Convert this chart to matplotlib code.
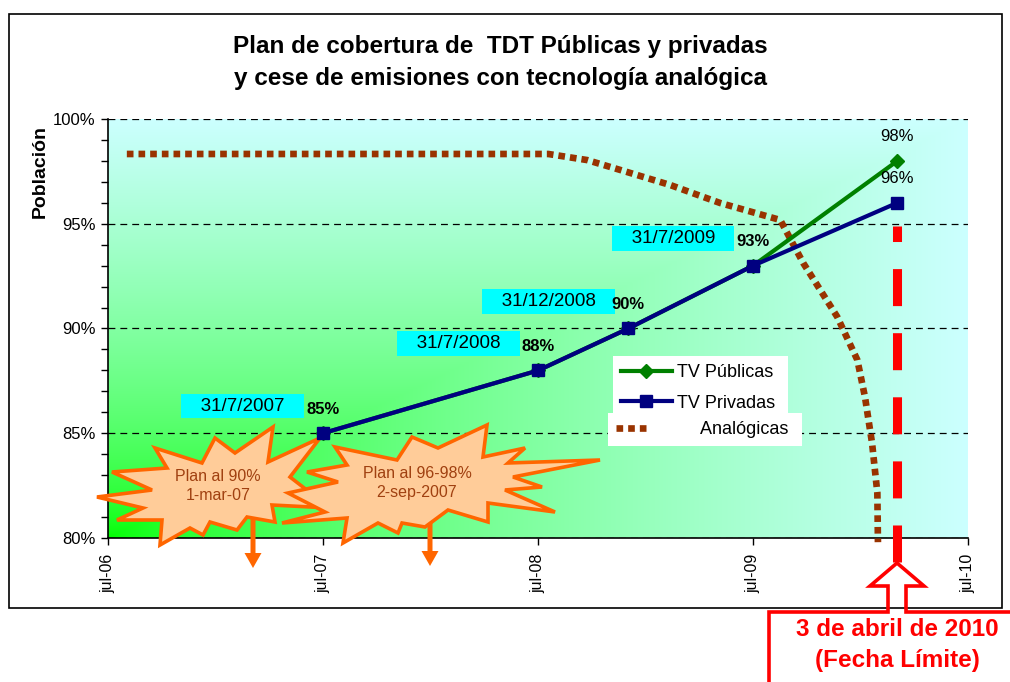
import numpy as np
import pandas as pd
import matplotlib
matplotlib.use("Agg")
import matplotlib.pyplot as plt
import matplotlib.dates as mdates
from matplotlib.transforms import Affine2D
from matplotlib.patches import Polygon, Rectangle, FancyArrow
from matplotlib.lines import Line2D
from matplotlib.ticker import MultipleLocator, FixedLocator, FixedFormatter

plt.rcParams['font.family'] = ['Liberation Sans', 'DejaVu Sans']

# ---------------- datos ----------------
fechas = pd.to_datetime(["2007-07-01", "2008-07-01", "2008-12-01", "2009-07-01", "2010-03-03"])
publicas = [85, 88, 90, 93, 98]
privadas = [85, 88, 90, 93, 96]
etiquetas_fecha = ["31/7/2007", "31/7/2008", "31/12/2008", "31/7/2009"]

fechas_analog = pd.to_datetime(["2006-08-02", "2008-07-18", "2008-09-22", "2008-11-17",
                                "2009-02-10", "2009-05-06", "2009-08-16", "2009-09-24",
                                "2009-11-21", "2009-12-25", "2010-01-07", "2010-01-19",
                                "2010-01-28", "2010-01-29"])
analogicas = [98.33, 98.33, 98.04, 97.57, 96.85, 95.99, 95.18, 93.13,
              90.55, 88.5, 86.73, 84.53, 82.15, 79.8]

fecha_limite = pd.Timestamp("2010-03-03")
limite_desde, limite_hasta = 78.85, 94.9

x_ticks = pd.to_datetime(["2006-07-01", "2007-07-01", "2008-07-01", "2009-07-01", "2010-07-01"])
x_tick_labels = ["jul-06", "jul-07", "jul-08", "jul-09", "jul-10"]
y_ticks = [80, 85, 90, 95, 100]
y_tick_labels = ["80%", "85%", "90%", "95%", "100%"]

W, H = 1010, 682
fig = plt.figure(figsize=(W / 100, H / 100), dpi=100)
# coordenadas en pixeles (origen arriba a la izquierda)
px = Affine2D().scale(1 / W, -1 / H).translate(0, 1) + fig.transFigure

ax = fig.add_axes([108 / W, 1 - 538 / H, 860 / W, 419 / H])

# fondo degradado desde la esquina inferior izquierda
nx, ny = 400, 300
X, Y = np.meshgrid(np.linspace(0, 1, nx), np.linspace(0, 1, ny))
t = np.maximum(X, Y) ** 0.65
verde = np.array([0, 255, 0]) / 255
cian = np.array([204, 255, 255]) / 255
img = verde[None, None, :] + t[:, :, None] * (cian - verde)[None, None, :]
ax.imshow(img, extent=[0, 1, 0, 1], transform=ax.transAxes, origin="lower",
          aspect="auto", zorder=0, interpolation="bilinear")

# series
ax.plot(fechas_analog, analogicas, color="#993300", lw=4.8,
        linestyle=(0, (1, 0.75)), dash_capstyle="butt", zorder=2.6, clip_on=False)
ax.plot(fechas, publicas, color="#008000", lw=3, marker="D", ms=7, zorder=3)
ax.plot(fechas, privadas, color="#000080", lw=3, marker="s", ms=9, zorder=4)

# linea fecha limite
ax.plot([fecha_limite, fecha_limite], [limite_desde, limite_hasta], color="#FF0000",
        lw=6.5, linestyle=(0, (4.1, 3.0)), dash_capstyle="butt", zorder=3.5, clip_on=False)

# etiquetas de valores
for i, (d, v) in enumerate(zip(fechas, privadas)):
    ax.annotate(f"{v}%", (d, v), xytext=(0, 24), textcoords="offset pixels",
                ha="center", va="center", fontsize=12,
                fontweight="bold" if i < 4 else "normal", zorder=6)
ax.annotate(f"{publicas[-1]}%", (fechas[-1], publicas[-1]), xytext=(0, 24),
            textcoords="offset pixels", ha="center", va="center", fontsize=12, zorder=6)

# cajas con fechas
for i, lbl in enumerate(etiquetas_fecha):
    ax.annotate("   " + lbl + "   ", (fechas[i], privadas[i]), xytext=(-80, 27),
                textcoords="offset pixels", ha="center", va="center", fontsize=13.5,
                bbox=dict(boxstyle="square,pad=0.2", fc="#00FFFF", ec="none"), zorder=5)

# ejes
ax.set_xlim(mdates.date2num(x_ticks[0]), mdates.date2num(x_ticks[-1]))
ax.set_ylim(80, 100)
ax.xaxis.set_major_locator(FixedLocator(mdates.date2num(x_ticks)))
ax.xaxis.set_major_formatter(FixedFormatter(x_tick_labels))
ax.yaxis.set_major_locator(FixedLocator(y_ticks))
ax.yaxis.set_major_formatter(FixedFormatter(y_tick_labels))
ax.yaxis.set_minor_locator(MultipleLocator(1))
ax.tick_params(axis="y", which="both", direction="out", length=5, width=1, labelsize=12, pad=4)
ax.tick_params(axis="x", which="major", direction="out", length=5, width=1, labelsize=11.5,
               labelrotation=90, pad=6)
ax.set_axisbelow(True)
ax.yaxis.grid(True, color="black", lw=0.9, linestyle=(0, (5.5, 4)))
for s in ["top", "right"]:
    ax.spines[s].set_visible(False)
for s in ["left", "bottom"]:
    ax.spines[s].set_linewidth(1.2)

# leyendas
h_pub = Line2D([], [], color="#008000", lw=3, marker="D", ms=7)
h_pri = Line2D([], [], color="#000080", lw=3, marker="s", ms=9)
leg1 = ax.legend([h_pub, h_pri], ["TV Públicas ", "TV Privadas "], loc="upper left",
                 bbox_to_anchor=(613, 356), bbox_transform=px, fontsize=13,
                 frameon=True, fancybox=False, framealpha=1, edgecolor="none",
                 borderaxespad=0, borderpad=0.45, labelspacing=0.75,
                 handlelength=2.8, handletextpad=0.3)
leg1.set_zorder(7)
ax.add_artist(leg1)
h_ana = Line2D([], [], color="#993300", lw=4.8, linestyle=(0, (1, 0.75)), dash_capstyle="butt")
leg2 = ax.legend([h_ana], ["Analógicas "], loc="upper left",
                 bbox_to_anchor=(608, 413), bbox_transform=px, fontsize=13,
                 frameon=True, fancybox=False, framealpha=1, edgecolor="none",
                 borderaxespad=0, borderpad=0.45, handlelength=1.65, handletextpad=3.0)
leg2.set_zorder(7)

# explosiones con flechas
estrella1 = [(97, 497), (152, 490), (112, 472), (167, 468), (155, 448), (202, 463),
             (215, 438), (235, 453), (273, 427), (268, 462), (320, 438), (290, 477),
             (330, 508), (272, 505), (275, 522), (247, 517), (237, 530), (210, 522),
             (203, 535), (190, 528), (160, 545), (162, 520), (117, 520), (143, 508)]
estrella2 = [(282, 523), (325, 512), (288, 493), (338, 482), (307, 472), (347, 465),
             (335, 447), (397, 460), (412, 437), (438, 448), (487, 425), (483, 457),
             (525, 448), (508, 463), (600, 460), (513, 477), (542, 487), (505, 490),
             (555, 512), (488, 503), (488, 522), (448, 510), (425, 527), (402, 523),
             (398, 533), (378, 523), (343, 543), (347, 518)]
for (x0, y0, y1) in [(253, 517, 568), (430, 522, 566)]:
    ax.add_patch(FancyArrow(x0, y0, 0, y1 - y0, width=5, head_width=17, head_length=15,
                            length_includes_head=True, fc="#FF6600", ec="none",
                            transform=px, clip_on=False, zorder=2.7))
for est in [estrella1, estrella2]:
    ax.add_patch(Polygon(est, closed=True, fc="#FFCC99", ec="#FF6600", lw=2.6,
                         joinstyle="miter", transform=px, clip_on=False, zorder=2.8))
fig.text(218, 486, "Plan al 90%\n1-mar-07", transform=px, ha="center", va="center",
         fontsize=11.5, color="#A04010", linespacing=1.3, zorder=8)
fig.text(417, 483, "Plan al 96-98%\n2-sep-2007", transform=px, ha="center", va="center",
         fontsize=11.5, color="#A04010", linespacing=1.3, zorder=8)

# titulo y etiqueta eje
fig.text(500, 47, "Plan de cobertura de  TDT Públicas y privadas", transform=px,
         ha="center", va="center", fontsize=17.5, fontweight="bold")
fig.text(500, 78, "y cese de emisiones con tecnología analógica", transform=px,
         ha="center", va="center", fontsize=17.5, fontweight="bold")
fig.text(40, 172, "Población", transform=px, ha="center", va="center", rotation=90,
         fontsize=14, fontweight="bold")

# marco del grafico
fig.add_artist(Rectangle((9, 14), 993, 594, transform=px, fill=False, ec="black", lw=1.2))

# recuadro fecha limite
fig.add_artist(Line2D([769, 769, 888, 888, 870, 897, 924, 906, 906, 1015],
                      [690, 612, 612, 586, 586, 563, 586, 586, 612, 612],
                      transform=px, color="#FF0000", lw=2.6, solid_joinstyle="miter"))
fig.text(897, 630, "3 de abril de 2010", transform=px, ha="center", va="center",
         fontsize=17.5, fontweight="bold", color="#FF0000")
fig.text(897, 660, "(Fecha Límite)", transform=px, ha="center", va="center",
         fontsize=17.5, fontweight="bold", color="#FF0000")

fig.savefig("out.png", dpi=100)
